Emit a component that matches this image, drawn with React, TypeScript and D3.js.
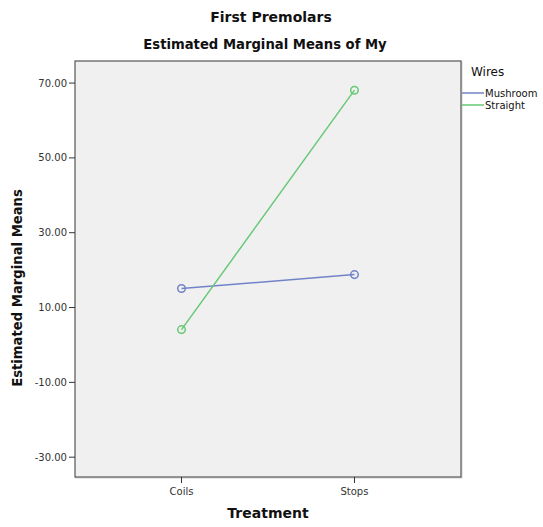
import React from "react";
import * as d3 from "d3";

const categories = ["Coils", "Stops"];
const seriesNames = ["Mushroom", "Straight"];
const mushroomValues = [15.1, 18.8];
const straightValues = [4.1, 68.1];
const yTicks = [-30, -10, 10, 30, 50, 70];
const colors = ["#7183c8", "#66c975"];

const W = 543;
const H = 527;
const left = 75;
const right = 461;
const top = 61;
const bottom = 477;
const font = "'DejaVu Sans', sans-serif";

export default function App() {
  const x = d3.scalePoint<string>().domain(categories).range([left, right]).padding(0.616);
  const y = d3.scaleLinear().domain([-35.3, 75.9]).range([bottom, top]);
  const series = [mushroomValues, straightValues];
  const line = d3
    .line<number>()
    .x((_, i) => x(categories[i]) as number)
    .y((d) => y(d));

  return (
    <svg width={W} height={H} style={{ position: "absolute", left: 0, top: 0 }}>
      <rect x={0} y={0} width={W} height={H} fill="#ffffff" />
      <text x={271} y={22} textAnchor="middle" fontFamily={font} fontWeight="bold" fontSize={14} fill="#111">
        First Premolars
      </text>
      <text x={265} y={49} textAnchor="middle" fontFamily={font} fontWeight="bold" fontSize={13.2} fill="#111">
        Estimated Marginal Means of My
      </text>
      <rect x={left + 1} y={top + 1} width={right - left} height={bottom - top} fill="none" stroke="#d0d0d0" strokeWidth={1} />
      <rect x={left} y={top} width={right - left} height={bottom - top} fill="#f0f0f0" stroke="#555" strokeWidth={1.2} />
      {yTicks.map((t) => (
        <g key={t}>
          <line x1={left - 6} x2={left} y1={y(t)} y2={y(t)} stroke="#333" />
          <text x={left - 8} y={y(t) + 3.5} textAnchor="end" fontFamily={font} fontSize={10} fill="#333">
            {t.toFixed(2)}
          </text>
        </g>
      ))}
      {categories.map((c) => (
        <g key={c}>
          <line x1={x(c)} x2={x(c)} y1={bottom} y2={bottom + 6} stroke="#333" />
          <text x={x(c)} y={bottom + 18} textAnchor="middle" fontFamily={font} fontSize={10} fill="#333">
            {c}
          </text>
        </g>
      ))}
      <text x={268} y={518} textAnchor="middle" fontFamily={font} fontWeight="bold" fontSize={14} fill="#111">
        Treatment
      </text>
      <text
        transform={`translate(22, 288) rotate(-90)`}
        textAnchor="middle"
        fontFamily={font}
        fontWeight="bold"
        fontSize={13.2}
        fill="#111"
      >
        Estimated Marginal Means
      </text>
      {series.map((vals, si) => (
        <g key={si}>
          <path d={line(vals) as string} fill="none" stroke={colors[si]} strokeWidth={1.5} />
          {vals.map((v, i) => (
            <circle key={i} cx={x(categories[i])} cy={y(v)} r={3.8} fill="none" stroke={colors[si]} strokeWidth={1.5} />
          ))}
        </g>
      ))}
      <text x={471} y={76} fontFamily={font} fontSize={12} fill="#111">
        Wires
      </text>
      {seriesNames.map((n, i) => (
        <g key={n}>
          <line x1={462} x2={484} y1={93 + i * 12} y2={93 + i * 12} stroke={colors[i]} strokeWidth={1.5} />
          <text x={485} y={96.5 + i * 12} fontFamily={font} fontSize={10} fill="#111">
            {n}
          </text>
        </g>
      ))}
    </svg>
  );
}
